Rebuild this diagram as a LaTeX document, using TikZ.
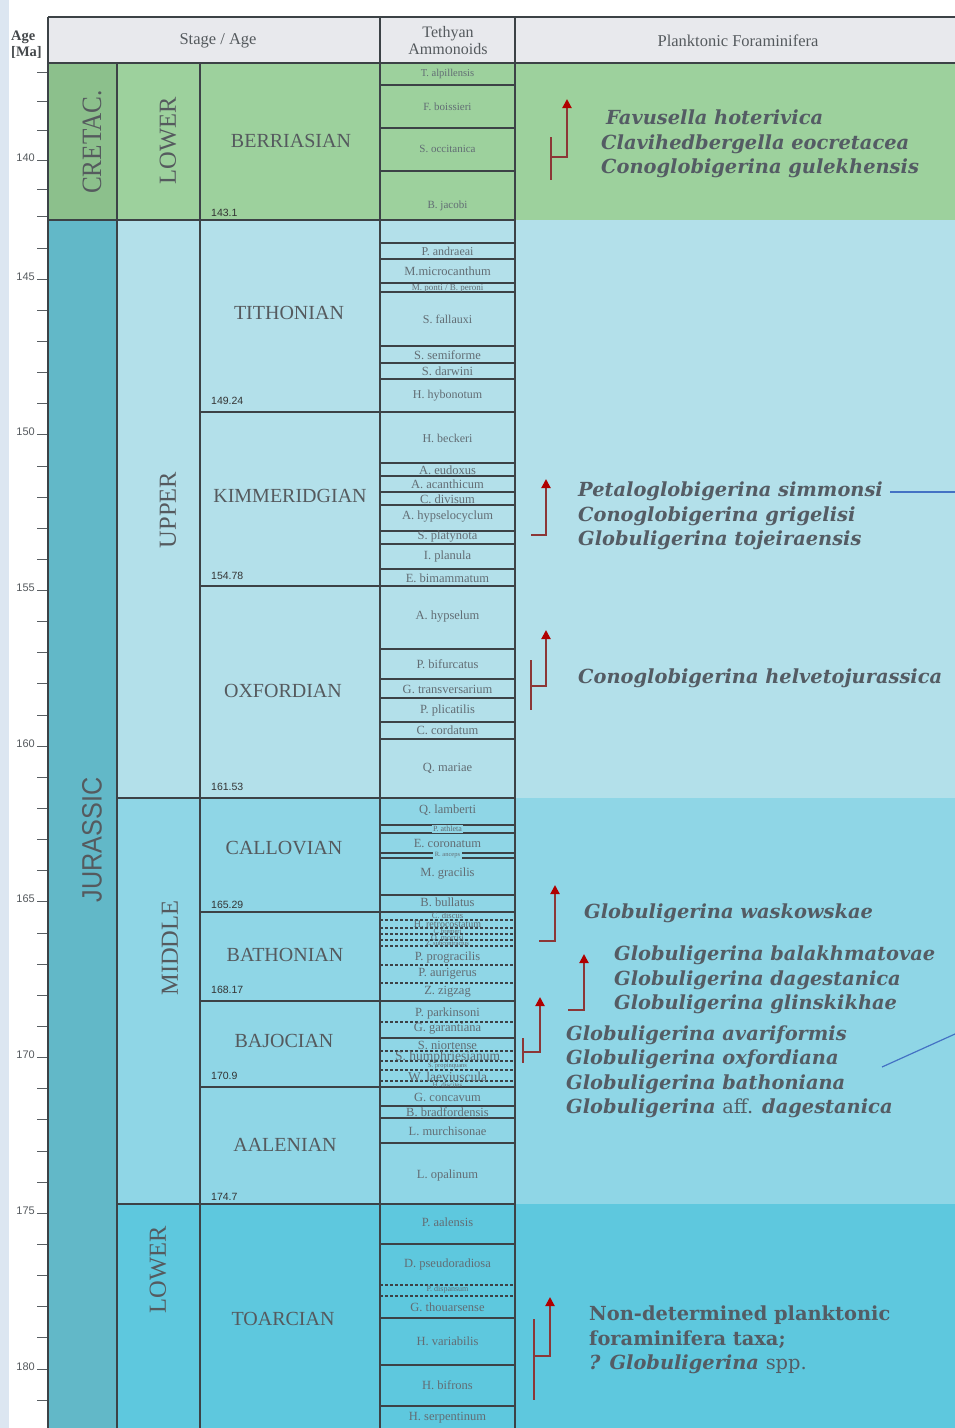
\documentclass[tikz,border=0pt]{standalone}
\usepackage{fontspec}
\setmainfont{Liberation Serif}
\newfontfamily\foramfont{DejaVu Serif}
\newfontfamily\sansf{Liberation Sans}
\usetikzlibrary{arrows.meta}
\definecolor{crgreen}{RGB}{157,209,157}
\definecolor{crdark}{RGB}{140,192,140}
\definecolor{ujblue}{RGB}{179,224,234}
\definecolor{mjblue}{RGB}{143,214,230}
\definecolor{ljblue}{RGB}{94,200,222}
\definecolor{jurdark}{RGB}{98,184,200}
\definecolor{hdrfill}{RGB}{232,233,237}
\definecolor{stripc}{RGB}{220,230,241}
\definecolor{linec}{RGB}{60,66,70}
\definecolor{stagetext}{RGB}{85,90,94}
\definecolor{ammtext}{RGB}{98,109,116}
\definecolor{foramtext}{RGB}{84,92,100}
\definecolor{arrline}{RGB}{140,55,55}
\definecolor{arrtip}{RGB}{176,0,0}
\definecolor{bluel}{RGB}{68,114,196}
\begin{document}
\begin{tikzpicture}[x=1pt,y=-1pt,
  grid/.style={draw=linec, line width=1.3pt},
  zline/.style={draw=linec, line width=1.1pt},
  dline/.style={draw=linec, line width=1.1pt, dash pattern=on 3pt off 2pt},
  tickln/.style={draw=linec!85, line width=1pt},
  hdr/.style={font=\fontsize{16.5}{17}\selectfont, text=stagetext, inner sep=0pt},
  stagename/.style={font=\fontsize{20}{20}\selectfont, text=stagetext, inner sep=0pt},
  epoch/.style={font=\fontsize{24.5}{25}\selectfont, text=stagetext, rotate=90, inner sep=0pt},
  bval/.style={font=\sansf\fontsize{10.5}{11}\selectfont, text=black!80, anchor=base west, inner sep=0pt},
  agelab/.style={font=\sansf\fontsize{11}{11}\selectfont, text=stagetext, anchor=base east, inner sep=0pt},
  amm/.style={text=ammtext, inner sep=0pt},
  foram/.style={font=\foramfont\bfseries\itshape\fontsize{19.4}{24.5}\selectfont, text=foramtext, align=left, inner sep=0pt, anchor=west},
  brk/.style={draw=arrline, line width=2pt},
  brkarrow/.style={draw=arrline, line width=2pt, -{Triangle[length=9pt,width=9pt,color=arrtip]}},
  blueln/.style={draw=bluel, line width=1.2pt}]
\useasboundingbox (0,0) rectangle (955,1428);
% backgrounds
\fill[white] (0,0) rectangle (955,1428);
\fill[stripc] (0,0) rectangle (9,1428);
\fill[hdrfill] (48,17) rectangle (955,63);
\fill[crgreen] (48,63) rectangle (955,220);
\fill[crdark] (48,63) rectangle (117,220);
\fill[ujblue] (117,220) rectangle (955,798);
\fill[mjblue] (117,798) rectangle (955,1204);
\fill[ljblue] (117,1204) rectangle (955,1428);
\fill[jurdark] (48,220) rectangle (117,1428);
% ammonoid zone lines
\foreach \yy in {85,128,171,243,259,283,292,346,363,379,463,476,492,505,531,544,569,649,679,698,722,739,825,833,853,858,895,1038,1106,1118,1143,1244,1318,1365,1406}
  \draw[zline] (380,\yy) -- (515,\yy);
\foreach \yy in {920,928,934,940,946,965,983,1022,1051,1061,1070,1081,1285,1296}
  \draw[dline] (380,\yy) -- (515,\yy);
% main grid
\draw[grid] (48,17) -- (955,17);
\draw[grid] (48,63) -- (955,63);
\draw[grid] (48,17) -- (48,1428);
\draw[grid] (117,63) -- (117,1428);
\draw[grid] (200,63) -- (200,1428);
\draw[grid] (380,17) -- (380,1428);
\draw[grid] (515,17) -- (515,1428);
\draw[grid] (48,220) -- (515,220);
\draw[grid] (117,798) -- (515,798);
\draw[grid] (117,1204) -- (515,1204);
\foreach \yy in {412,586,912,1001,1087}
  \draw[grid] (200,\yy) -- (515,\yy);
% age axis ticks
\foreach \yy in {72,101,130,160,189}
  \draw[tickln] (37,\yy) -- (47,\yy);
\foreach \a in {143,...,181}{
  \pgfmathsetmacro{\ty}{220+(\a-143.1)*31.14}
  \draw[tickln] (37,\ty) -- (47,\ty);
}
\node[agelab] (age140) at (35,161) {140};
\foreach \a in {145,150,...,180}{
  \pgfmathsetmacro{\ty}{220+(\a-143.1)*31.14+1}
  \node[agelab] (age\a) at (35,\ty) {\a};
}
% header
\node[font=\fontsize{14.5}{16}\selectfont\bfseries, text=stagetext!80!black, align=left, anchor=west, inner sep=0pt] (hAge) at (11,45) {Age\\{[Ma]}};
\node[hdr] (hStage) at (218,41) {Stage / Age};
\node[hdr, align=center, font=\fontsize{16}{17}\selectfont] (hAmm) at (448,41) {Tethyan\\Ammonoids};
\node[hdr] (hForam) at (738,41) {Planktonic Foraminifera};
% period / epoch labels
\node[rotate=90, inner sep=0pt, text=stagetext, font=\fontsize{28}{28}\selectfont] (pCret) at (92,142) {\scalebox{0.9}[1]{CRETAC.}};
\node[rotate=90, inner sep=0pt, text=stagetext, font=\sansf\fontsize{28}{28}\selectfont] (pJur) at (92,840) {\scalebox{0.9}[1]{JURASSIC}};
\node[epoch] (eLowC) at (168,141) {LOWER};
\node[epoch] (eUp) at (168,510) {UPPER};
\node[epoch] (eMid) at (170,948) {MIDDLE};
\node[epoch] (eLowJ) at (158,1270) {LOWER};
% stage names
\node[stagename] (sBer) at (291,141) {BERRIASIAN};
\node[stagename] (sTit) at (289,313) {TITHONIAN};
\node[stagename] (sKim) at (290,496) {KIMMERIDGIAN};
\node[stagename] (sOxf) at (283,691) {OXFORDIAN};
\node[stagename] (sCal) at (284,848) {CALLOVIAN};
\node[stagename] (sBat) at (285,955) {BATHONIAN};
\node[stagename] (sBaj) at (284,1041) {BAJOCIAN};
\node[stagename] (sAal) at (285,1145) {AALENIAN};
\node[stagename] (sToa) at (283,1319) {TOARCIAN};
% boundary values
\node[bval] (v1) at (211,216) {143.1};
\node[bval] (v2) at (211,404) {149.24};
\node[bval] (v3) at (211,579) {154.78};
\node[bval] (v4) at (211,790) {161.53};
\node[bval] (v5) at (211,908) {165.29};
\node[bval] (v6) at (211,993) {168.17};
\node[bval] (v7) at (211,1079) {170.9};
\node[bval] (v8) at (211,1200) {174.7};
% ammonoid names
\foreach \yy/\tt/\ss [count=\i] in {
 74/T. alpillensis/10.5, 107/F. boissieri/11, 149/S. occitanica/11, 206/B. jacobi/11,
 251/P. andraeai/12, 271/M.microcanthum/12.5, 288/{M. ponti / B. peroni}/9,
 319/S. fallauxi/12, 355/S. semiforme/12.5, 371/S. darwini/12.5, 396/H. hybonotum/12,
 438/H. beckeri/12, 470/A. eudoxus/12.5, 484/A. acanthicum/12.5, 499/C. divisum/12.5,
 517/A. hypselocyclum/12.5, 537/S. platynota/12.5, 556/I. planula/12.5, 578/E. bimammatum/12.5,
 617/A. hypselum/12.5, 664/P. bifurcatus/12.5, 689/G. transversarium/12.5, 710/P. plicatilis/12.5,
 730/C. cordatum/12.5, 768/Q. mariae/12.5, 810/Q. lamberti/12.5, 843/E. coronatum/12.5,
 873/M. gracilis/12.5, 902/B. bullatus/12.5, 916/C. discus/8.5, 924/H. retrocostatum/10,
 931/C. bremeri/6.5, 937.5/O. morrisi/8, 943.5/Z. subcontractus/6.5, 957/P. progracilis/12.5,
 974/P. aurigerus/12.5, 992/Z. zigzag/12.5, 1013/P. parkinsoni/12.5, 1029/G. garantiana/12.5,
 1045/S. niortense/12.5, 1057/S. humphriesianum/13.5, 1066/S. propinquans/6.5,
 1077/W. laeviuscula/13.5, 1085/H. discites/7, 1097/G. concavum/12.5, 1112/B. bradfordensis/12.5,
 1131/L. murchisonae/12.5, 1175/L. opalinum/12.5, 1222/P. aalensis/12.5, 1264/D. pseudoradiosa/12.5,
 1290/P. dispansum/8, 1307/G. thouarsense/12.5, 1341/H. variabilis/12.5, 1385/H. bifrons/12.5,
 1418/H. serpentinum/12.5}
 \node[amm, font=\fontsize{\ss}{\ss}\selectfont] (amm\i) at (447.5,\yy) {\tt};
\node[amm, font=\fontsize{8}{8}\selectfont, fill=mjblue, inner xsep=1.5pt, inner ysep=1pt] (ammAth) at (447.5,829) {P. athleta};
\node[amm, font=\fontsize{6.5}{6.5}\selectfont, fill=mjblue, inner xsep=1.5pt, inner ysep=0.8pt] (ammAnc) at (447.5,855.5) {R. anceps};
% foraminifera text
\node[foram] (f1) at (601,144) {\hspace*{5pt}Favusella hoterivica\\Clavihedbergella eocretacea\\Conoglobigerina gulekhensis};
\node[foram] (f2) at (578,516) {Petaloglobigerina simmonsi\\Conoglobigerina grigelisi\\Globuligerina tojeiraensis};
\node[foram] (f3) at (578,678) {Conoglobigerina helvetojurassica};
\node[foram] (f4) at (584,913) {Globuligerina waskowskae};
\node[foram] (f5) at (614,980) {Globuligerina balakhmatovae\\Globuligerina dagestanica\\Globuligerina glinskikhae};
\node[foram] (f6) at (566,1072) {Globuligerina avariformis\\Globuligerina oxfordiana\\Globuligerina bathoniana\\Globuligerina {\upshape\mdseries aff.} dagestanica};
\node[foram] (f7) at (589,1340) {{\upshape Non-determined planktonic}\\{\upshape foraminifera taxa;}\\? Globuligerina {\upshape\mdseries spp.}};
% range markers
\coordinate (a1l1) at (551,137); \coordinate (a1l2) at (551,180);
\coordinate (a1h) at (551,157); \coordinate (a1c) at (567,157); \coordinate (a1t) at (567,99);
\draw[brk] (a1l1) -- (a1l2);
\draw[brkarrow] (a1h) -- (a1c) -- (a1t);
\coordinate (a2h) at (531,535); \coordinate (a2c) at (546,535); \coordinate (a2t) at (546,479);
\draw[brkarrow] (a2h) -- (a2c) -- (a2t);
\coordinate (a3l1) at (531,660); \coordinate (a3l2) at (531,710);
\coordinate (a3h) at (531,686); \coordinate (a3c) at (546,686); \coordinate (a3t) at (546,630);
\draw[brk] (a3l1) -- (a3l2);
\draw[brkarrow] (a3h) -- (a3c) -- (a3t);
\coordinate (a4h) at (539,941); \coordinate (a4c) at (555,941); \coordinate (a4t) at (555,885);
\draw[brkarrow] (a4h) -- (a4c) -- (a4t);
\coordinate (a5h) at (568,1010); \coordinate (a5c) at (584,1010); \coordinate (a5t) at (584,954);
\draw[brkarrow] (a5h) -- (a5c) -- (a5t);
\coordinate (a6l1) at (523,1038); \coordinate (a6l2) at (523,1063);
\coordinate (a6h) at (523,1052); \coordinate (a6c) at (540,1052); \coordinate (a6t) at (540,997);
\draw[brk] (a6l1) -- (a6l2);
\draw[brkarrow] (a6h) -- (a6c) -- (a6t);
\coordinate (a7l1) at (534,1319); \coordinate (a7l2) at (534,1400);
\coordinate (a7h) at (534,1356); \coordinate (a7c) at (550,1356); \coordinate (a7t) at (550,1297);
\draw[brk] (a7l1) -- (a7l2);
\draw[brkarrow] (a7h) -- (a7c) -- (a7t);
% blue leader lines
\coordinate (b1s) at (890,492); \coordinate (b1e) at (955,492);
\draw[blueln] (b1s) -- (b1e);
\coordinate (b2s) at (882,1067); \coordinate (b2e) at (955,1034);
\draw[blueln] (b2s) -- (b2e);
\end{tikzpicture}
\end{document}
